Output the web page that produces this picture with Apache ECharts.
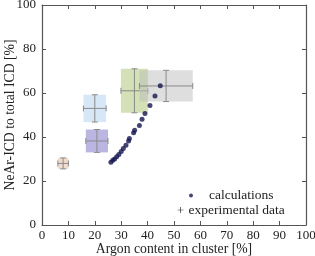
<!DOCTYPE html>
<html><head><meta charset="utf-8">
<script src="https://cdn.jsdelivr.net/npm/echarts@6/dist/echarts.min.js"></script>
<style>html,body{margin:0;padding:0;background:#fff}#c{width:315px;height:256px}</style>
</head><body><div id="c"></div>
<script>
var calcX = [44.8, 42.8, 40.9, 39.0, 37.9, 36.9, 35.1, 34.7, 33.1, 32.8, 31.8, 30.8, 30.0, 29.1, 28.3, 27.5, 26.8, 26.1];
var calcY = [63.3, 58.6, 54.3, 50.7, 48.1, 45.2, 43.1, 41.9, 39.3, 38.2, 36.3, 34.8, 33.4, 32.0, 31.0, 30.0, 29.4, 28.5];
var expX = [8.0, 20.8, 20.0, 35.0, 47.0];
var expY = [28.0, 38.2, 53.0, 61.0, 63.2];
var expXErr = [2.0, 4.2, 4.3, 5.1, 10.1];
var expYErr = [2.5, 5.2, 6.2, 10.0, 7.1];
var xTicks = [0,10,20,30,40,50,60,70,80,90,100];
var yTicks = [0,20,40,60,80,100];
var boxColors = ['rgba(232,196,170,0.6)','rgba(140,132,205,0.6)','rgba(190,215,242,0.6)','rgba(170,195,110,0.5)','rgba(190,190,190,0.5)'];

var font = '"Liberation Serif", "DejaVu Serif", serif';
var axisCol = '#555';
var expData = expX.map(function(x,i){return [x, expY[i], expXErr[i], expYErr[i], i];});
var calcData = calcX.map(function(x,i){return [x, calcY[i]];});

function axisCommon(show){
  return {
    min:0, max:100, splitLine:{show:false},
    axisLine:{show:true, onZero:false, lineStyle:{color:axisCol, width:1.2}},
    axisTick:{show:true, inside:true, length:4, lineStyle:{color:axisCol}},
    axisLabel:{show:show, color:'#222', fontFamily:font, fontSize:13}
  };
}
var xB = Object.assign(axisCommon(true), {type:'value', position:'bottom', interval:10,
  name:'Argon content in cluster [%]', nameLocation:'middle', nameGap:17, nameMoveOverlap:false,
  nameTextStyle:{fontFamily:font, fontSize:13.7, color:'#222'}});
xB.axisLabel.margin = 4;
var xT = Object.assign(axisCommon(false), {type:'value', position:'top', interval:10});
var yL = Object.assign(axisCommon(true), {type:'value', position:'left', interval:20,
  name:'NeAr-ICD to total ICD [%]', nameLocation:'middle', nameGap:25, nameMoveOverlap:false,
  nameTextStyle:{fontFamily:font, fontSize:13.7, color:'#222'}});
yL.axisLabel.margin = 6;
var yR = Object.assign(axisCommon(false), {type:'value', position:'right', interval:20});

var legendText = {fontFamily:font, fontSize:13.5, color:'#222', lineHeight:13,
  rich:{p:{fontFamily:font, fontSize:13.5, color:'#222', lineHeight:13, padding:[0,0,0,11]}}};

var chart = echarts.init(document.getElementById('c'), null, {renderer:'canvas'});
chart.setOption({
  animation:false,
  grid:{left:42, right:9, top:5, bottom:31, containLabel:false, outerBoundsMode:'none'},
  xAxis:[xB, xT],
  yAxis:[yL, yR],
  legend:[{
    orient:'vertical', left:189, top:188.5, itemWidth:4, itemHeight:4, padding:0,
    textStyle:legendText,
    formatter:function(name){ return '{p|' + name + '}'; },
    data:[{name:'calculations', icon:'circle'}]
  },{
    orient:'vertical', left:177.5, top:203, itemWidth:6, itemHeight:6, padding:0,
    textStyle:legendText,
    data:[{name:'experimental data', icon:'path://M4.4,0h1.2v10h-1.2zM0,4.4h10v1.2h-10z'}]
  }],
  series:[
    {
      name:'experimental data', type:'custom', xAxisIndex:0, yAxisIndex:0,
      itemStyle:{color:'#333'},
      data:expData,
      renderItem:function(params, api){
        var x=api.value(0), y=api.value(1), ex=api.value(2), ey=api.value(3), idx=api.value(4);
        var p0=api.coord([x-ex, y+ey]), p1=api.coord([x+ex, y-ey]), c=api.coord([x,y]);
        var cap=3, lc={stroke:'#8a8a8a', lineWidth:1};
        return {type:'group', children:[
          {type:'rect', shape:{x:p0[0], y:p0[1], width:p1[0]-p0[0], height:p1[1]-p0[1]}, style:{fill:boxColors[idx]}},
          {type:'line', shape:{x1:p0[0], y1:c[1], x2:p1[0], y2:c[1]}, style:lc},
          {type:'line', shape:{x1:c[0], y1:p0[1], x2:c[0], y2:p1[1]}, style:lc},
          {type:'line', shape:{x1:p0[0], y1:c[1]-cap, x2:p0[0], y2:c[1]+cap}, style:lc},
          {type:'line', shape:{x1:p1[0], y1:c[1]-cap, x2:p1[0], y2:c[1]+cap}, style:lc},
          {type:'line', shape:{x1:c[0]-cap, y1:p0[1], x2:c[0]+cap, y2:p0[1]}, style:lc},
          {type:'line', shape:{x1:c[0]-cap, y1:p1[1], x2:c[0]+cap, y2:p1[1]}, style:lc}
        ]};
      }
    },
    {
      name:'calculations', type:'scatter', xAxisIndex:0, yAxisIndex:0,
      symbol:'circle', symbolSize:5, itemStyle:{color:'#15154f'}, data:calcData, z:5
    }
  ]
});
</script></body></html>
